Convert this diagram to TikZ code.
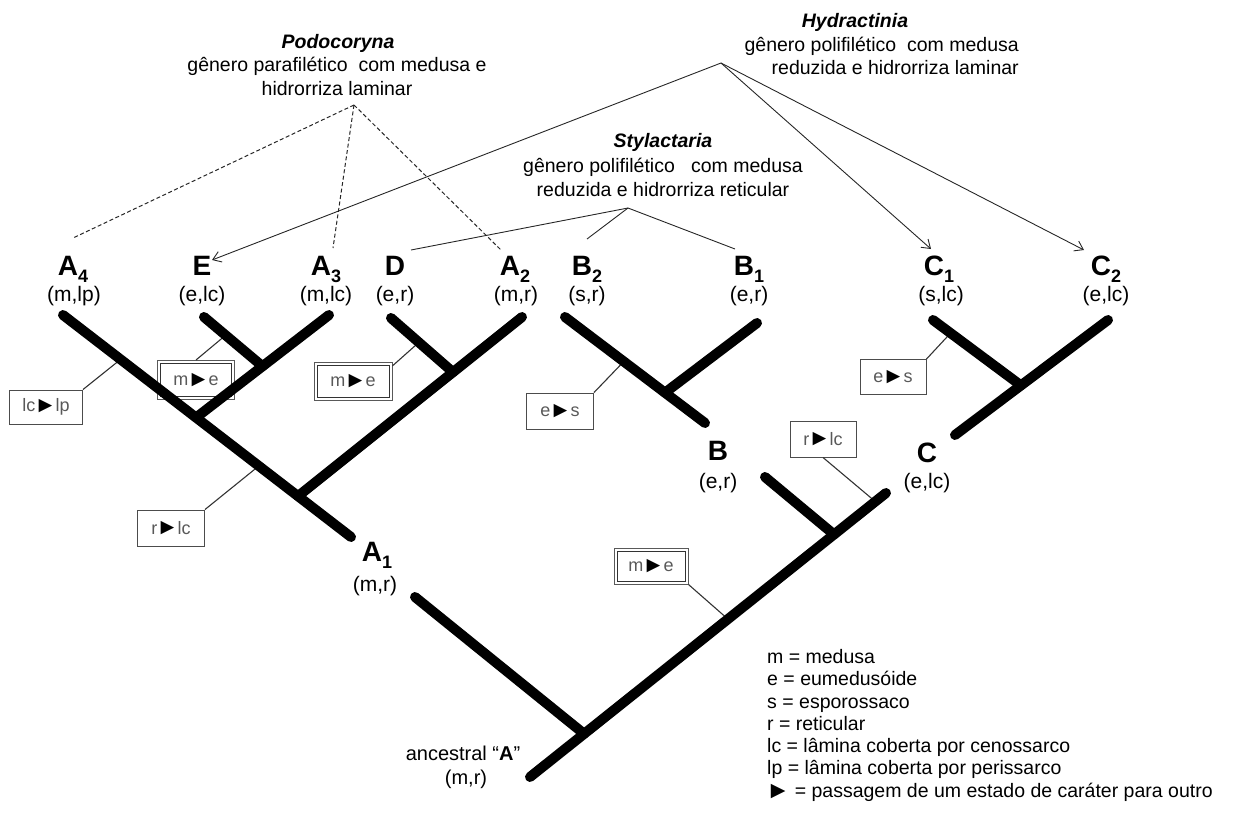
\documentclass[tikz,border=0pt]{standalone}
\usepackage{fontspec}
\setmainfont{Liberation Sans}
\usetikzlibrary{arrows.meta,calc}
\newcommand\tri{{\color{black}\kern-0.05em\raisebox{-0.03em}{\scalebox{1.25}{►}}\kern-0.05em}}
\newcommand\subx[1]{\raisebox{-7pt}{\fontsize{18}{18}\selectfont #1}}
\begin{document}
\begin{tikzpicture}[x=1pt,y=-1pt,
  branch/.style={line width=10pt,line cap=round,black},
  thinlink/.style={line width=1.1pt,black!80},
  dashlink/.style={line width=1pt,dash pattern=on 4pt off 2.5pt,black!85},
  arrowlink/.style={line width=0.9pt,black!85,-{Straight Barb[length=8pt,width=11pt,line width=0.9pt]}},
  plainlink/.style={line width=0.9pt,black!85},
  taxon/.style={font=\fontsize{28}{30}\selectfont\bfseries,inner sep=0pt,anchor=base},
  state/.style={font=\fontsize{21}{24}\selectfont,inner sep=0pt,anchor=base},
  body/.style={font=\fontsize{19.5}{23.5}\selectfont,inner sep=0pt,anchor=base},
  gtitle/.style={font=\fontsize{19.5}{23.5}\selectfont\bfseries\itshape,inner sep=0pt,anchor=base},
  legend/.style={font=\fontsize{19.5}{23.5}\selectfont,inner sep=0pt,anchor=base west},
  chbox/.style={draw=black!70,line width=1pt,inner sep=0pt,text=black!65,font=\fontsize{18}{18}\selectfont},
  dbox/.style={draw=black!65,line width=1pt,inner sep=0pt,text=black!65,font=\fontsize{18}{18}\selectfont},
  dinner/.style={draw=black!80,line width=1pt}
]
\useasboundingbox (0,0) rectangle (1235,812);

% ---- group texts
\node[gtitle] (podT) at (338,48) {Podocoryna};
\node[body] (pod1) at (337,71) {gênero parafilético\ \ com medusa e};
\node[body] (pod2) at (337,95) {hidrorriza laminar};
\node[gtitle] (hydT) at (855,27) {Hydractinia};
\node[body,anchor=base east] (hyd1) at (1019,51) {gênero polifilético\ \ com medusa};
\node[body,anchor=base east] (hyd2) at (1019,74) {reduzida e hidrorriza laminar};
\node[gtitle] (styT) at (663,147) {Stylactaria};
\node[body] (sty1) at (663,172) {gênero polifilético\ \ \ com medusa};
\node[body] (sty2) at (663,196) {reduzida e hidrorriza reticular};

% ---- taxa
\node[taxon] (nA4) at (73,275) {A\subx{4}};
\node[taxon] (nE)  at (202,275) {E};
\node[taxon] (nA3) at (326,275) {A\subx{3}};
\node[taxon] (nD)  at (395,275) {D};
\node[taxon] (nA2) at (515,275) {A\subx{2}};
\node[taxon] (nB2) at (587,275) {B\subx{2}};
\node[taxon] (nB1) at (749,275) {B\subx{1}};
\node[taxon] (nC1) at (939,275) {C\subx{1}};
\node[taxon] (nC2) at (1106,275) {C\subx{2}};
\node[state] (sA4) at (74,301) {(m,lp)};
\node[state] (sE)  at (202,301) {(e,lc)};
\node[state] (sA3) at (326,301) {(m,lc)};
\node[state] (sD)  at (395,301) {(e,r)};
\node[state] (sA2) at (516,301) {(m,r)};
\node[state] (sB2) at (587,301) {(s,r)};
\node[state] (sB1) at (749,301) {(e,r)};
\node[state] (sC1) at (941,301) {(s,lc)};
\node[state] (sC2) at (1106,301) {(e,lc)};
\node[taxon] (nB) at (718,460) {B};
\node[state] (sB) at (718,488) {(e,r)};
\node[taxon] (nC) at (927,462) {C};
\node[state] (sC) at (927,488) {(e,lc)};
\node[taxon] (nA1) at (377,561) {A\subx{1}};
\node[state] (sA1) at (375,591) {(m,r)};
\node[state,font=\fontsize{20}{24}\selectfont] (nAnc) at (463,760) {ancestral “\textbf{A}”};
\node[state,font=\fontsize{20}{24}\selectfont] (sAnc) at (466,784) {(m,r)};

% ---- legend
\node[legend] (lg1) at (767,663.5) {m = medusa};
\node[legend] (lg2) at (767,685.5) {e = eumedusóide};
\node[legend] (lg3) at (767,708) {s = esporossaco};
\node[legend] (lg4) at (767,730) {r = reticular};
\node[legend] (lg5) at (767,752.5) {lc = lâmina coberta por cenossarco};
\node[legend] (lg6) at (767,774.5) {lp = lâmina coberta por perissarco};
\node[legend] (lg7) at (767,797.5) {\tri{} = passagem de um estado de caráter para outro};

% ---- group link apexes and ends
\coordinate (hyd) at (721,63);
\coordinate (sty) at (628,208);
\coordinate (pod) at (354,105);
\coordinate (toE) at (212,260);
\coordinate (toC1) at (931,249);
\coordinate (toC2) at (1084,250);
\coordinate (toD) at (411,250);
\coordinate (toB2) at (587,239);
\coordinate (toB1) at (735,249);
\coordinate (toA4) at (73,238);
\coordinate (toA3) at (333,248);
\coordinate (toA2) at (501,250);

\draw[dashlink] (pod) -- (toA4);
\draw[dashlink] (pod) -- (toA3);
\draw[dashlink] (pod) -- (toA2);
\draw[arrowlink] (hyd) -- (toE);
\draw[arrowlink] (hyd) -- (toC1);
\draw[arrowlink] (hyd) -- (toC2);
\draw[plainlink] (sty) -- (toD);
\draw[plainlink] (sty) -- (toB2);
\draw[plainlink] (sty) -- (toB1);

% ---- tree coordinates
\coordinate (a4t) at (63,315);
\coordinate (a1e) at (351,537);
\coordinate (et) at (204,317);
\coordinate (a3t) at (329,315);
\coordinate (a3e) at ($(a4t)!0.462!(a1e)$);
\coordinate (ee) at ($(a3t)!0.5!(a3e)$);
\coordinate (dt) at (391,318);
\coordinate (a2t) at (522,317);
\coordinate (a2e) at ($(a4t)!0.816!(a1e)$);
\coordinate (de) at ($(a2t)!0.308!(a2e)$);
\coordinate (b2t) at (565,317);
\coordinate (b2e) at (705,423);
\coordinate (b1t) at (757,323);
\coordinate (b1e) at ($(b2t)!0.714!(b2e)$);
\coordinate (c1t) at (933,320);
\coordinate (c2t) at (1108,320);
\coordinate (c2e) at (955,435);
\coordinate (c1e) at ($(c2t)!0.569!(c2e)$);
\coordinate (ct) at (886,493);
\coordinate (rootb) at (530,777);
\coordinate (bt) at (765,477);
\coordinate (be) at ($(ct)!0.146!(rootb)$);
\coordinate (a1t) at (415,597);
\coordinate (a1j) at ($(ct)!0.848!(rootb)$);

% ---- character change boxes
\node[chbox,minimum width=73pt,minimum height=34pt] (bx1) at (46,407) {lc\tri lp};
\node[dbox,minimum width=77pt,minimum height=39pt] (bx2) at (196,380) {m\tri e};
\node[dbox,minimum width=78pt,minimum height=38pt] (bx3) at (353,381) {m\tri e};
\node[chbox,minimum width=67pt,minimum height=36pt] (bx4) at (171,528) {r\tri lc};
\node[chbox,minimum width=67pt,minimum height=36pt] (bx5) at (560,411) {e\tri s};
\node[chbox,minimum width=66pt,minimum height=35pt] (bx6) at (893,377) {e\tri s};
\node[chbox,minimum width=66pt,minimum height=36pt] (bx7) at (823,439) {r\tri lc};
\node[dbox,minimum width=74pt,minimum height=36pt] (bx8) at (651,566) {m\tri e};
\draw[dinner] ($(bx2.south west)+(3.5,-3.5)$) rectangle ($(bx2.north east)+(-3.5,3.5)$);
\draw[dinner] ($(bx3.south west)+(3.5,-3.5)$) rectangle ($(bx3.north east)+(-3.5,3.5)$);
\draw[dinner] ($(bx8.south west)+(3.5,-3.5)$) rectangle ($(bx8.north east)+(-3.5,3.5)$);

\coordinate (p1) at ($(a4t)!0.20!(a1e)$);
\coordinate (p2) at ($(et)!0.37!(ee)$);
\coordinate (p3) at ($(dt)!0.45!(de)$);
\coordinate (p4) at ($(a4t)!0.68!(a1e)$);
\coordinate (p5) at ($(b2t)!0.42!(b2e)$);
\coordinate (p6) at ($(c1t)!0.2!(c1e)$);
\coordinate (p7) at ($(ct)!0.03!(rootb)$);
\coordinate (p8) at ($(ct)!0.444!(rootb)$);

\draw[thinlink] (bx1.north east) -- (p1);
\draw[thinlink] (bx2.north) -- (p2);
\draw[thinlink] (bx3.21) -- (p3);
\draw[thinlink] (bx4.north east) -- (p4);
\draw[thinlink] (bx5.north east) -- (p5);
\draw[thinlink] (bx6.north east) -- (p6);
\draw[thinlink] (bx7.south) -- (p7);
\draw[thinlink] (bx8.south east) -- (p8);

% ---- thick branches
\draw[branch] (a4t) -- (a1e);
\draw[branch] (et) -- (ee);
\draw[branch] (a3t) -- (a3e);
\draw[branch] (dt) -- (de);
\draw[branch] (a2t) -- (a2e);
\draw[branch] (b2t) -- (b2e);
\draw[branch] (b1t) -- (b1e);
\draw[branch] (c1t) -- (c1e);
\draw[branch] (c2t) -- (c2e);
\draw[branch] (bt) -- (be);
\draw[branch] (ct) -- (rootb);
\draw[branch] (a1t) -- (a1j);
\end{tikzpicture}
\end{document}
